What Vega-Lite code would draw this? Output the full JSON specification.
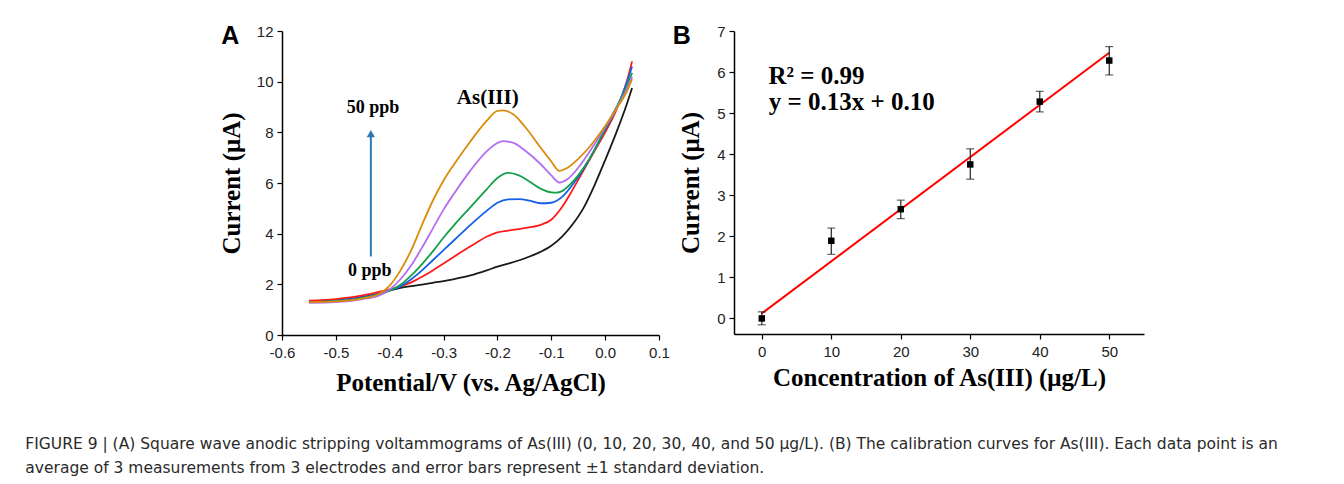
{
  "$schema": "https://vega.github.io/schema/vega-lite/v6.json",
  "background": "white",
  "padding": {"left": 25, "top": 24, "right": 0, "bottom": 0},
  "bounds": "flush",
  "spacing": 75,
  "config": {
    "font": "Liberation Sans",
    "view": {"stroke": null},
    "axis": {
      "grid": false,
      "domainColor": "#000",
      "domainWidth": 1.5,
      "tickColor": "#000",
      "tickWidth": 1.2,
      "labelFont": "Liberation Sans",
      "labelFontSize": 15,
      "labelColor": "#222",
      "labelFlush": false,
      "labelOverlap": false,
      "labelPadding": 4,
      "titleFont": "Liberation Serif",
      "titleFontWeight": "bold",
      "titleFontSize": 25,
      "titleColor": "#000"
    }
  },
  "title": {
    "text": [
      "FIGURE 9 | (A) Square wave anodic stripping voltammograms of As(III) (0, 10, 20, 30, 40, and 50 μg/L). (B) The calibration curves for As(III). Each data point is an",
      "average of 3 measurements from 3 electrodes and error bars represent ±1 standard deviation."
    ],
    "orient": "bottom",
    "anchor": "start",
    "frame": "bounds",
    "font": "DejaVu Sans",
    "fontSize": 15.5,
    "fontWeight": "normal",
    "color": "#2a2a2a",
    "lineHeight": 24,
    "offset": 42,
    "dx": -194
  },
  "datasets": {
    "curves": [
      {"s": "0", "v": -0.55, "i": 1.32}, {"s": "0", "v": -0.5, "i": 1.36}, {"s": "0", "v": -0.45, "i": 1.5}, {"s": "0", "v": -0.42, "i": 1.63}, {"s": "0", "v": -0.4, "i": 1.76}, {"s": "0", "v": -0.38, "i": 1.86}, {"s": "0", "v": -0.36, "i": 1.93}, {"s": "0", "v": -0.34, "i": 1.99}, {"s": "0", "v": -0.32, "i": 2.06}, {"s": "0", "v": -0.3, "i": 2.13}, {"s": "0", "v": -0.28, "i": 2.21}, {"s": "0", "v": -0.25, "i": 2.35}, {"s": "0", "v": -0.22, "i": 2.55}, {"s": "0", "v": -0.2, "i": 2.7}, {"s": "0", "v": -0.18, "i": 2.82}, {"s": "0", "v": -0.15, "i": 3.02}, {"s": "0", "v": -0.12, "i": 3.28}, {"s": "0", "v": -0.1, "i": 3.52}, {"s": "0", "v": -0.08, "i": 3.88}, {"s": "0", "v": -0.06, "i": 4.38}, {"s": "0", "v": -0.04, "i": 5.02}, {"s": "0", "v": -0.02, "i": 5.9}, {"s": "0", "v": 0.0, "i": 6.9}, {"s": "0", "v": 0.02, "i": 7.95}, {"s": "0", "v": 0.04, "i": 9.1}, {"s": "0", "v": 0.05, "i": 9.75},
      {"s": "10", "v": -0.55, "i": 1.36}, {"s": "10", "v": -0.5, "i": 1.42}, {"s": "10", "v": -0.45, "i": 1.56}, {"s": "10", "v": -0.42, "i": 1.7}, {"s": "10", "v": -0.4, "i": 1.8}, {"s": "10", "v": -0.38, "i": 1.92}, {"s": "10", "v": -0.36, "i": 2.08}, {"s": "10", "v": -0.34, "i": 2.3}, {"s": "10", "v": -0.32, "i": 2.55}, {"s": "10", "v": -0.3, "i": 2.82}, {"s": "10", "v": -0.28, "i": 3.1}, {"s": "10", "v": -0.25, "i": 3.5}, {"s": "10", "v": -0.22, "i": 3.88}, {"s": "10", "v": -0.2, "i": 4.05}, {"s": "10", "v": -0.18, "i": 4.12}, {"s": "10", "v": -0.15, "i": 4.22}, {"s": "10", "v": -0.12, "i": 4.35}, {"s": "10", "v": -0.1, "i": 4.55}, {"s": "10", "v": -0.08, "i": 5.05}, {"s": "10", "v": -0.06, "i": 5.75}, {"s": "10", "v": -0.04, "i": 6.5}, {"s": "10", "v": -0.02, "i": 7.25}, {"s": "10", "v": 0.0, "i": 8.0}, {"s": "10", "v": 0.02, "i": 8.85}, {"s": "10", "v": 0.04, "i": 10.0}, {"s": "10", "v": 0.05, "i": 10.8},
      {"s": "20", "v": -0.55, "i": 1.3}, {"s": "20", "v": -0.5, "i": 1.35}, {"s": "20", "v": -0.45, "i": 1.48}, {"s": "20", "v": -0.42, "i": 1.62}, {"s": "20", "v": -0.4, "i": 1.76}, {"s": "20", "v": -0.38, "i": 1.92}, {"s": "20", "v": -0.36, "i": 2.2}, {"s": "20", "v": -0.34, "i": 2.55}, {"s": "20", "v": -0.32, "i": 2.95}, {"s": "20", "v": -0.3, "i": 3.35}, {"s": "20", "v": -0.28, "i": 3.75}, {"s": "20", "v": -0.25, "i": 4.35}, {"s": "20", "v": -0.22, "i": 4.9}, {"s": "20", "v": -0.2, "i": 5.22}, {"s": "20", "v": -0.18, "i": 5.35}, {"s": "20", "v": -0.16, "i": 5.36}, {"s": "20", "v": -0.14, "i": 5.3}, {"s": "20", "v": -0.12, "i": 5.2}, {"s": "20", "v": -0.1, "i": 5.22}, {"s": "20", "v": -0.08, "i": 5.45}, {"s": "20", "v": -0.06, "i": 5.95}, {"s": "20", "v": -0.04, "i": 6.55}, {"s": "20", "v": -0.02, "i": 7.3}, {"s": "20", "v": 0.0, "i": 8.1}, {"s": "20", "v": 0.02, "i": 8.9}, {"s": "20", "v": 0.04, "i": 9.95}, {"s": "20", "v": 0.05, "i": 10.6},
      {"s": "30", "v": -0.55, "i": 1.3}, {"s": "30", "v": -0.5, "i": 1.34}, {"s": "30", "v": -0.45, "i": 1.46}, {"s": "30", "v": -0.42, "i": 1.6}, {"s": "30", "v": -0.4, "i": 1.75}, {"s": "30", "v": -0.38, "i": 1.98}, {"s": "30", "v": -0.36, "i": 2.35}, {"s": "30", "v": -0.34, "i": 2.8}, {"s": "30", "v": -0.32, "i": 3.3}, {"s": "30", "v": -0.3, "i": 3.85}, {"s": "30", "v": -0.28, "i": 4.35}, {"s": "30", "v": -0.25, "i": 5.05}, {"s": "30", "v": -0.22, "i": 5.75}, {"s": "30", "v": -0.2, "i": 6.2}, {"s": "30", "v": -0.18, "i": 6.4}, {"s": "30", "v": -0.16, "i": 6.3}, {"s": "30", "v": -0.14, "i": 6.05}, {"s": "30", "v": -0.12, "i": 5.78}, {"s": "30", "v": -0.1, "i": 5.63}, {"s": "30", "v": -0.09, "i": 5.62}, {"s": "30", "v": -0.08, "i": 5.68}, {"s": "30", "v": -0.06, "i": 6.05}, {"s": "30", "v": -0.04, "i": 6.6}, {"s": "30", "v": -0.02, "i": 7.3}, {"s": "30", "v": 0.0, "i": 8.15}, {"s": "30", "v": 0.02, "i": 8.95}, {"s": "30", "v": 0.04, "i": 9.8}, {"s": "30", "v": 0.05, "i": 10.35},
      {"s": "40", "v": -0.55, "i": 1.27}, {"s": "40", "v": -0.5, "i": 1.3}, {"s": "40", "v": -0.45, "i": 1.42}, {"s": "40", "v": -0.42, "i": 1.55}, {"s": "40", "v": -0.4, "i": 1.8}, {"s": "40", "v": -0.38, "i": 2.2}, {"s": "40", "v": -0.36, "i": 2.75}, {"s": "40", "v": -0.34, "i": 3.45}, {"s": "40", "v": -0.32, "i": 4.2}, {"s": "40", "v": -0.3, "i": 4.95}, {"s": "40", "v": -0.28, "i": 5.6}, {"s": "40", "v": -0.25, "i": 6.5}, {"s": "40", "v": -0.22, "i": 7.25}, {"s": "40", "v": -0.2, "i": 7.58}, {"s": "40", "v": -0.19, "i": 7.65}, {"s": "40", "v": -0.17, "i": 7.58}, {"s": "40", "v": -0.15, "i": 7.3}, {"s": "40", "v": -0.12, "i": 6.75}, {"s": "40", "v": -0.1, "i": 6.3}, {"s": "40", "v": -0.085, "i": 6.02}, {"s": "40", "v": -0.07, "i": 6.15}, {"s": "40", "v": -0.05, "i": 6.6}, {"s": "40", "v": -0.03, "i": 7.2}, {"s": "40", "v": 0.0, "i": 8.2}, {"s": "40", "v": 0.02, "i": 8.9}, {"s": "40", "v": 0.04, "i": 9.7}, {"s": "40", "v": 0.05, "i": 10.2},
      {"s": "50", "v": -0.55, "i": 1.3}, {"s": "50", "v": -0.5, "i": 1.33}, {"s": "50", "v": -0.45, "i": 1.45}, {"s": "50", "v": -0.42, "i": 1.62}, {"s": "50", "v": -0.4, "i": 1.95}, {"s": "50", "v": -0.38, "i": 2.55}, {"s": "50", "v": -0.36, "i": 3.35}, {"s": "50", "v": -0.34, "i": 4.35}, {"s": "50", "v": -0.32, "i": 5.3}, {"s": "50", "v": -0.3, "i": 6.1}, {"s": "50", "v": -0.28, "i": 6.75}, {"s": "50", "v": -0.25, "i": 7.65}, {"s": "50", "v": -0.22, "i": 8.45}, {"s": "50", "v": -0.2, "i": 8.85}, {"s": "50", "v": -0.19, "i": 8.87}, {"s": "50", "v": -0.17, "i": 8.7}, {"s": "50", "v": -0.15, "i": 8.25}, {"s": "50", "v": -0.12, "i": 7.4}, {"s": "50", "v": -0.1, "i": 6.85}, {"s": "50", "v": -0.085, "i": 6.48}, {"s": "50", "v": -0.07, "i": 6.6}, {"s": "50", "v": -0.05, "i": 6.95}, {"s": "50", "v": -0.03, "i": 7.4}, {"s": "50", "v": 0.0, "i": 8.25}, {"s": "50", "v": 0.02, "i": 8.9}, {"s": "50", "v": 0.04, "i": 9.6}, {"s": "50", "v": 0.05, "i": 10.1}
    ],
    "arrow": [{"v": -0.435, "lo": 3.1, "hi": 7.95}],
    "labelsA": [
      {"t": "50 ppb", "v": -0.431, "i": 8.95, "sz": "s"},
      {"t": "0 ppb", "v": -0.437, "i": 2.53, "sz": "s"},
      {"t": "As(III)", "v": -0.218, "i": 9.37, "sz": "l"}
    ],
    "points": [
      {"c": 0, "i": 0.0, "lo": -0.155, "hi": 0.16},
      {"c": 10, "i": 1.89, "lo": 1.56, "hi": 2.2},
      {"c": 20, "i": 2.66, "lo": 2.43, "hi": 2.88},
      {"c": 30, "i": 3.75, "lo": 3.39, "hi": 4.13},
      {"c": 40, "i": 5.28, "lo": 5.03, "hi": 5.53},
      {"c": 50, "i": 6.28, "lo": 5.93, "hi": 6.62}
    ],
    "fit": [{"c": 0, "i": 0.12}, {"c": 50, "i": 6.47}],
    "labelsB": [
      {"t": "R² = 0.99", "c": 0.95, "i": 5.91},
      {"t": "y = 0.13x + 0.10", "c": 1.0, "i": 5.26}
    ]
  },
  "hconcat": [
    {
      "width": 377,
      "height": 304,
      "title": {"text": "A", "anchor": "start", "frame": "bounds", "font": "Liberation Sans", "fontSize": 25, "fontWeight": "bold", "color": "#000", "baseline": "alphabetic", "offset": -18, "dx": 2, "dy": 27},
      "layer": [
        {
          "data": {"name": "curves"},
          "mark": {"type": "line", "strokeWidth": 1.8, "interpolate": "monotone"},
          "encoding": {
            "x": {"field": "v", "type": "quantitative", "scale": {"domain": [-0.6, 0.1], "nice": false, "zero": false},
              "axis": {"title": "Potential/V (vs. Ag/AgCl)", "values": [-0.6, -0.55, -0.5, -0.45, -0.4, -0.35, -0.3, -0.25, -0.2, -0.15, -0.1, -0.05, 0, 0.05, 0.1],
                "labelExpr": "abs(datum.value*10 - round(datum.value*10)) < 0.001 ? replace(format(datum.value, '.1f'), '\u2212', '-') : ''",
                "tickSize": {"condition": {"test": "abs(datum.value*10 - round(datum.value*10)) < 0.001", "value": 5}, "value": 3},
                "labelPadding": 5, "titlePadding": 10}},
            "y": {"field": "i", "type": "quantitative", "scale": {"domain": [0, 12], "nice": false, "zero": false},
              "axis": {"title": "Current (μA)", "values": [0, 1, 2, 3, 4, 5, 6, 7, 8, 9, 10, 11, 12],
                "labelExpr": "datum.value % 2 == 0 ? datum.label : ''",
                "tickSize": {"condition": {"test": "datum.value % 2 == 0", "value": 5}, "value": 3},
                "titlePadding": 12}},
            "color": {"field": "s", "type": "nominal", "legend": null,
              "scale": {"domain": ["0", "10", "20", "30", "40", "50"], "range": ["#1a1a1a", "#ff1a1a", "#1560e8", "#14a04a", "#b46ef0", "#d98c0a"]}},
            "order": {"field": "v", "type": "quantitative"}
          }
        },
        {
          "data": {"name": "arrow"},
          "mark": {"type": "rule", "color": "#2a7ab8", "strokeWidth": 2},
          "encoding": {"x": {"field": "v", "type": "quantitative"}, "y": {"field": "lo", "type": "quantitative"}, "y2": {"field": "hi"}}
        },
        {
          "data": {"name": "arrow"},
          "mark": {"type": "point", "shape": "triangle-up", "filled": true, "color": "#2a7ab8", "size": 70, "opacity": 1},
          "encoding": {"x": {"field": "v", "type": "quantitative"}, "y": {"field": "hi", "type": "quantitative"}}
        },
        {
          "data": {"name": "labelsA"},
          "mark": {"type": "text", "font": "Liberation Serif", "fontWeight": "bold", "color": "#000", "baseline": "middle", "align": "center"},
          "encoding": {
            "x": {"field": "v", "type": "quantitative"},
            "y": {"field": "i", "type": "quantitative"},
            "text": {"field": "t"},
            "size": {"field": "sz", "type": "nominal", "legend": null, "scale": {"domain": ["s", "l"], "range": [18, 21]}}
          }
        }
      ]
    },
    {
      "width": 410,
      "height": 303,
      "title": {"text": "B", "anchor": "start", "frame": "bounds", "font": "Liberation Sans", "fontSize": 25, "fontWeight": "bold", "color": "#000", "baseline": "alphabetic", "offset": -18, "dx": -6, "dy": 27},
      "layer": [
        {
          "data": {"name": "fit"},
          "mark": {"type": "line", "color": "#ff0000", "strokeWidth": 2},
          "encoding": {
            "x": {"field": "c", "type": "quantitative", "scale": {"domain": [-4, 55], "nice": false, "zero": false},
              "axis": {"title": "Concentration of As(III) (μg/L)", "values": [0, 5, 10, 15, 20, 25, 30, 35, 40, 45, 50, 55],
                "labelExpr": "datum.value % 10 == 0 ? datum.label : ''",
                "tickSize": {"condition": {"test": "datum.value % 10 == 0", "value": 5}, "value": 3},
                "labelPadding": 5, "titlePadding": 6}},
            "y": {"field": "i", "type": "quantitative", "scale": {"domain": [-0.38, 7], "nice": false, "zero": false},
              "axis": {"title": "Current (μA)", "values": [0, 0.5, 1, 1.5, 2, 2.5, 3, 3.5, 4, 4.5, 5, 5.5, 6, 6.5, 7],
                "labelExpr": "datum.value % 1 == 0 ? datum.label : ''",
                "tickSize": {"condition": {"test": "datum.value % 1 == 0", "value": 5}, "value": 3},
                "titlePadding": 13}}
          }
        },
        {
          "data": {"name": "points"},
          "mark": {"type": "rule", "color": "#222", "strokeWidth": 1.2},
          "encoding": {"x": {"field": "c", "type": "quantitative"}, "y": {"field": "lo", "type": "quantitative"}, "y2": {"field": "hi"}}
        },
        {
          "data": {"name": "points"},
          "mark": {"type": "tick", "orient": "horizontal", "color": "#222", "size": 8, "thickness": 1.2},
          "encoding": {"x": {"field": "c", "type": "quantitative"}, "y": {"field": "lo", "type": "quantitative"}}
        },
        {
          "data": {"name": "points"},
          "mark": {"type": "tick", "orient": "horizontal", "color": "#222", "size": 8, "thickness": 1.2},
          "encoding": {"x": {"field": "c", "type": "quantitative"}, "y": {"field": "hi", "type": "quantitative"}}
        },
        {
          "data": {"name": "points"},
          "mark": {"type": "square", "color": "#000", "size": 42, "opacity": 1},
          "encoding": {"x": {"field": "c", "type": "quantitative"}, "y": {"field": "i", "type": "quantitative"}}
        },
        {
          "data": {"name": "labelsB"},
          "mark": {"type": "text", "font": "Liberation Serif", "fontWeight": "bold", "fontSize": 25, "color": "#000", "baseline": "middle", "align": "left"},
          "encoding": {"x": {"field": "c", "type": "quantitative"}, "y": {"field": "i", "type": "quantitative"}, "text": {"field": "t"}}
        }
      ]
    }
  ]
}
